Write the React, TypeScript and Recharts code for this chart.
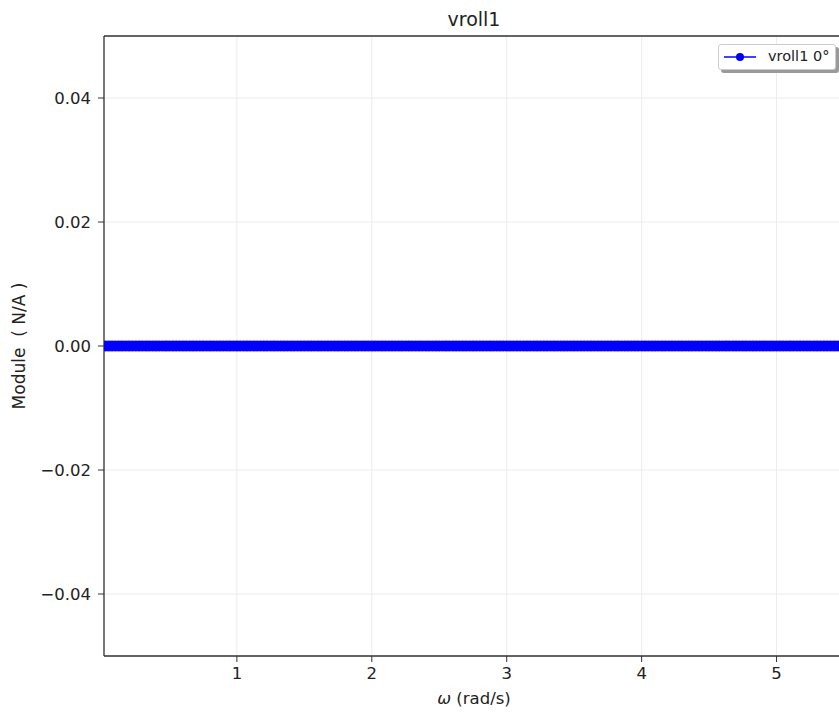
import {
  LineChart,
  Line,
  XAxis,
  YAxis,
  CartesianGrid,
  ReferenceLine,
} from "recharts";

// omega grid (rad/s) and module values (flat at zero)
const omega = [
  0.025, 0.05, 0.075, 0.1, 0.125, 0.15, 0.175, 0.2, 0.225, 0.25,
  0.275, 0.3, 0.325, 0.35, 0.375, 0.4, 0.425, 0.45, 0.475, 0.5,
  0.525, 0.55, 0.575, 0.6, 0.625, 0.65, 0.675, 0.7, 0.725, 0.75,
  0.775, 0.8, 0.825, 0.85, 0.875, 0.9, 0.925, 0.95, 0.975, 1.0,
  1.025, 1.05, 1.075, 1.1, 1.125, 1.15, 1.175, 1.2, 1.225, 1.25,
  1.275, 1.3, 1.325, 1.35, 1.375, 1.4, 1.425, 1.45, 1.475, 1.5,
  1.525, 1.55, 1.575, 1.6, 1.625, 1.65, 1.675, 1.7, 1.725, 1.75,
  1.775, 1.8, 1.825, 1.85, 1.875, 1.9, 1.925, 1.95, 1.975, 2.0,
  2.025, 2.05, 2.075, 2.1, 2.125, 2.15, 2.175, 2.2, 2.225, 2.25,
  2.275, 2.3, 2.325, 2.35, 2.375, 2.4, 2.425, 2.45, 2.475, 2.5,
  2.525, 2.55, 2.575, 2.6, 2.625, 2.65, 2.675, 2.7, 2.725, 2.75,
  2.775, 2.8, 2.825, 2.85, 2.875, 2.9, 2.925, 2.95, 2.975, 3.0,
  3.025, 3.05, 3.075, 3.1, 3.125, 3.15, 3.175, 3.2, 3.225, 3.25,
  3.275, 3.3, 3.325, 3.35, 3.375, 3.4, 3.425, 3.45, 3.475, 3.5,
  3.525, 3.55, 3.575, 3.6, 3.625, 3.65, 3.675, 3.7, 3.725, 3.75,
  3.775, 3.8, 3.825, 3.85, 3.875, 3.9, 3.925, 3.95, 3.975, 4.0,
  4.025, 4.05, 4.075, 4.1, 4.125, 4.15, 4.175, 4.2, 4.225, 4.25,
  4.275, 4.3, 4.325, 4.35, 4.375, 4.4, 4.425, 4.45, 4.475, 4.5,
  4.525, 4.55, 4.575, 4.6, 4.625, 4.65, 4.675, 4.7, 4.725, 4.75,
  4.775, 4.8, 4.825, 4.85, 4.875, 4.9, 4.925, 4.95, 4.975, 5.0,
  5.025, 5.05, 5.075, 5.1, 5.125, 5.15, 5.175, 5.2, 5.225, 5.25,
  5.275, 5.3, 5.325, 5.35, 5.375, 5.4, 5.425, 5.45, 5.475, 5.5,
];

const moduleValues = [
  0, 0, 0, 0, 0, 0, 0, 0, 0, 0, 0, 0, 0, 0, 0, 0, 0, 0, 0, 0,
  0, 0, 0, 0, 0, 0, 0, 0, 0, 0, 0, 0, 0, 0, 0, 0, 0, 0, 0, 0,
  0, 0, 0, 0, 0, 0, 0, 0, 0, 0, 0, 0, 0, 0, 0, 0, 0, 0, 0, 0,
  0, 0, 0, 0, 0, 0, 0, 0, 0, 0, 0, 0, 0, 0, 0, 0, 0, 0, 0, 0,
  0, 0, 0, 0, 0, 0, 0, 0, 0, 0, 0, 0, 0, 0, 0, 0, 0, 0, 0, 0,
  0, 0, 0, 0, 0, 0, 0, 0, 0, 0, 0, 0, 0, 0, 0, 0, 0, 0, 0, 0,
  0, 0, 0, 0, 0, 0, 0, 0, 0, 0, 0, 0, 0, 0, 0, 0, 0, 0, 0, 0,
  0, 0, 0, 0, 0, 0, 0, 0, 0, 0, 0, 0, 0, 0, 0, 0, 0, 0, 0, 0,
  0, 0, 0, 0, 0, 0, 0, 0, 0, 0, 0, 0, 0, 0, 0, 0, 0, 0, 0, 0,
  0, 0, 0, 0, 0, 0, 0, 0, 0, 0, 0, 0, 0, 0, 0, 0, 0, 0, 0, 0,
  0, 0, 0, 0, 0, 0, 0, 0, 0, 0, 0, 0, 0, 0, 0, 0, 0, 0, 0, 0,
];

const xTicks = [1, 2, 3, 4, 5];
const yTicks = [-0.04, -0.02, 0, 0.02, 0.04];
const xDomain = [0.015, 5.5];
const yDomain = [-0.05, 0.05];

const chartTitle = "vroll1";
const seriesName = "vroll1 0°";

const data = omega.map((w, i) => ({ omega: w, module: moduleValues[i] }));

const font = "'DejaVu Sans', sans-serif";
const axisColor = "#333333";
const blue = "#0000ff";

const formatY = (v: number) =>
  v < 0 ? "\u2212" + Math.abs(v).toFixed(2) : Math.abs(v).toFixed(2);

export default function App() {
  return (
    <div
      style={{
        position: "fixed",
        left: 0,
        top: 0,
        width: 839,
        height: 713,
        overflow: "hidden",
        background: "#fff",
        fontFamily: font,
        color: "#222",
      }}
    >
      <LineChart
        width={870}
        height={713}
        data={data}
        margin={{ top: 36, right: 26, bottom: 0, left: 0 }}
      >
        <CartesianGrid stroke="#ececec" strokeWidth={1} />
        <XAxis
          dataKey="omega"
          type="number"
          domain={xDomain}
          ticks={xTicks}
          allowDataOverflow
          height={57}
          tickSize={6}
          tickMargin={5}
          stroke={axisColor}
          axisLine={{ stroke: axisColor, strokeWidth: 1.3 }}
          tickLine={{ stroke: axisColor }}
          tick={{ fill: "#222", fontSize: 16.5, fontFamily: font }}
        />
        <YAxis
          type="number"
          domain={yDomain}
          ticks={yTicks}
          allowDataOverflow
          width={104}
          tickSize={6}
          tickMargin={7}
          tickFormatter={formatY}
          axisLine={{ stroke: axisColor, strokeWidth: 1.3 }}
          tickLine={{ stroke: axisColor }}
          tick={{ fill: "#222", fontSize: 16.5, fontFamily: font }}
        />
        {/* top spine of the axes frame */}
        <ReferenceLine
          y={yDomain[1]}
          stroke={axisColor}
          strokeWidth={1.3}
          ifOverflow="visible"
        />
        <Line
          dataKey="module"
          name={seriesName}
          stroke={blue}
          strokeWidth={1.5}
          dot={{ r: 5, fill: blue, stroke: blue, strokeWidth: 1 }}
          isAnimationActive={false}
        />
      </LineChart>

      <div
        style={{
          position: "absolute",
          left: 104,
          width: 740,
          top: 8,
          textAlign: "center",
          fontSize: 19,
        }}
      >
        {chartTitle}
      </div>

      <div
        style={{
          position: "absolute",
          left: 19,
          top: 346,
          transform: "translate(-50%, -50%) rotate(-90deg)",
          whiteSpace: "pre",
          fontSize: 17,
        }}
      >
        {"Module  ( N/A )"}
      </div>

      <div
        style={{
          position: "absolute",
          left: 474,
          top: 698,
          transform: "translate(-50%, -50%)",
          whiteSpace: "pre",
          fontSize: 16.5,
        }}
      >
        <i>ω</i>
        {" (rad/s)"}
      </div>

      <div
        style={{
          position: "absolute",
          left: 718,
          top: 44,
          width: 118,
          height: 26,
          boxSizing: "border-box",
          border: "1px solid #cccccc",
          borderRadius: 3,
          background: "#fff",
          boxShadow: "3px 3px 0 #9a9a9a",
        }}
      >
        <svg
          width={40}
          height={24}
          style={{ position: "absolute", left: 4, top: 0 }}
        >
          <line x1={1} y1={12} x2={33} y2={12} stroke={blue} strokeWidth={1.5} />
          <circle cx={17} cy={12} r={4} fill={blue} />
        </svg>
        <span
          style={{
            position: "absolute",
            left: 49,
            top: 3,
            fontSize: 14.5,
            whiteSpace: "nowrap",
          }}
        >
          {seriesName}
        </span>
      </div>
    </div>
  );
}
